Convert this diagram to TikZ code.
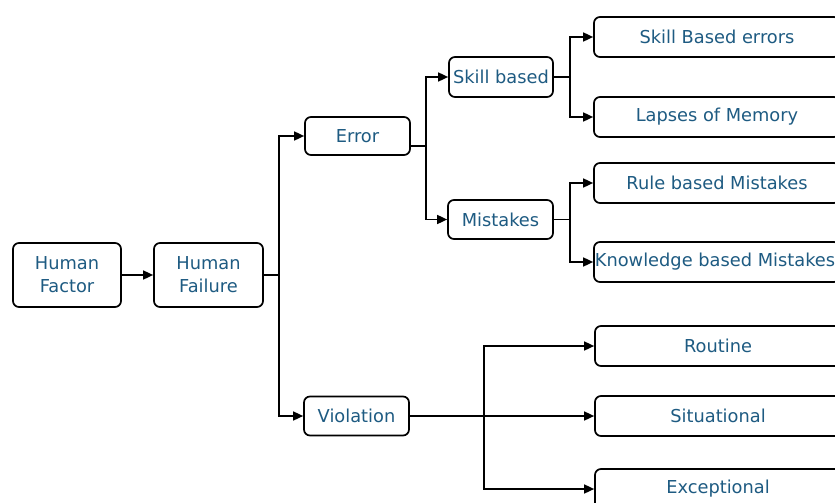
\documentclass[tikz,border=0pt]{standalone}
\usepackage{fontspec}
\setmainfont{DejaVu Sans}
\usetikzlibrary{arrows.meta}
\definecolor{txtblue}{HTML}{1E5B82}
\tikzset{
  box/.style={draw=black, line width=1.7pt, rounded corners=6pt, fill=white,
    text=txtblue, align=center, inner sep=2pt,
    font=\fontsize{17.8}{23}\selectfont},
  wide/.style={box, minimum width=246pt, minimum height=40pt},
  arr/.style={line width=1.6pt, -{Triangle[length=10pt,width=9pt]}},
  ln/.style={line width=1.6pt}
}
\begin{document}
\begin{tikzpicture}[x=1pt,y=-1pt]
\useasboundingbox (0,0) rectangle (835,503);
% first two levels
\node[box, minimum width=108pt, minimum height=64pt] (hfac) at (67,275) {Human\\Factor};
\node[box, minimum width=109pt, minimum height=64pt] (hfail) at (208.5,275) {Human\\Failure};
\node[box, minimum width=105pt, minimum height=38pt] (err) at (357.5,136) {Error};
\node[box, minimum width=105pt, minimum height=39pt] (vio) at (356.5,416) {Violation};
% error branches
\node[box, minimum width=104pt, minimum height=40pt] (sb) at (501,77) {Skill based};
\node[box, minimum width=105pt, minimum height=39pt] (mis) at (500.5,219.5) {Mistakes};
% leaves
\node[wide] (sbe) at (717,37) {Skill Based errors};
\node[wide] (lap) at (717,117) {Lapses of Memory};
\node[wide] (rbm) at (717,183) {Rule based Mistakes};
\node[wide] (kbm) at (717,262) {};
\node[text=txtblue, font=\fontsize{17.8}{23}\selectfont, inner sep=0pt] (kbmt) at (715,262) {Knowledge based Mistakes};
\node[wide] (rou) at (718,346) {Routine};
\node[wide] (sit) at (718,416) {Situational};
\node[wide] (exc) at (718,489) {Exceptional};
% connectors
\draw[arr] (hfac) -- (hfail);
\draw[ln] (hfail.east) -- ++(15,0) coordinate (j1);
\draw[arr] (j1) |- (err.west);
\draw[arr] (j1) |- (vio.west);
\draw[ln] ([yshift=-10pt]err.east) -- ++(15,0) coordinate (j2);
\draw[arr] (j2) |- (sb.west);
\draw[arr] (j2) |- (mis.west);
\draw[ln] (sb.east) -- ++(16,0) coordinate (j3);
\draw[arr] (j3) |- (sbe.west);
\draw[arr] (j3) |- (lap.west);
\draw[ln] (mis.east) -- ++(16,0) coordinate (j4);
\draw[arr] (j4) |- (rbm.west);
\draw[arr] (j4) |- (kbm.west);
\draw[arr] (vio.east) -- (sit.west);
\coordinate (j5) at (484,416);
\draw[arr] (j5) |- (rou.west);
\draw[arr] (j5) |- (exc.west);
\end{tikzpicture}
\end{document}
